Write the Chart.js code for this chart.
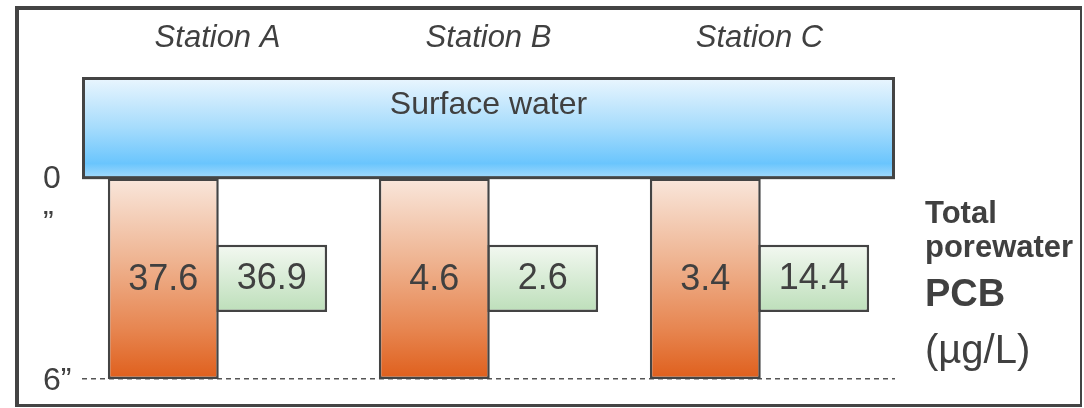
<!DOCTYPE html>
<html>
<head>
<meta charset="utf-8">
<title>Porewater PCB by station</title>
<script src="https://cdn.jsdelivr.net/npm/chart.js@4.4.1/dist/chart.umd.min.js"></script>
<style>
  html, body { margin: 0; padding: 0; background: #fff; overflow: hidden; }
  #frame {
    position: absolute; left: 15px; top: 6px; width: 1061px; height: 394px;
    border-style: solid; border-color: #444; border-width: 4px 2px 3px 4px;
  }
  #chart { position: absolute; left: 0; top: 0; }
</style>
</head>
<body>
<div id="frame"></div>
<canvas id="chart" width="1084" height="408"></canvas>
<script>
var stations = ['Station A', 'Station B', 'Station C'];
var coreDepth = [0, 6];      // inches below the sediment surface
var samplerDepth = [2, 4];
var waterDepth = [-3, 0];
var coreValues = [37.6, 4.6, 3.4];
var samplerValues = [36.9, 2.6, 14.4];
var depthTicks = [0, 6];
var depthLabels = ['0', '6”'];

var INK = '#404040';
var EDGE = '#444';
var FONT = "'Liberation Sans', Arial, Helvetica, sans-serif";

Chart.defaults.font.family = FONT;
Chart.defaults.color = INK;

function makeGradient(ctx, y0, y1, stops) {
  var g = ctx.createLinearGradient(0, y0, 0, y1);
  stops.forEach(function(s) { g.addColorStop(s[0], s[1]); });
  return g;
}

// vertical gradient between two depths on the y scale
function depthGradient(from, to, stops) {
  return function(context) {
    var chart = context.chart;
    var y = chart.scales.y;
    if (!chart.chartArea || !y) return stops[stops.length - 1][1];
    return makeGradient(chart.ctx, y.getPixelForValue(from), y.getPixelForValue(to), stops);
  };
}

var waterStops = [[0, '#ebf6fe'], [0.5, '#a6dcfc'], [0.86, '#6ac5fd'], [1, '#a2d9fb']];

// surface water layer, spanning the full width above the sediment
var waterPlugin = {
  id: 'surfaceWater',
  beforeDatasetsDraw: function(chart) {
    var ctx = chart.ctx;
    var area = chart.chartArea;
    var y = chart.scales.y;
    var top = y.getPixelForValue(waterDepth[0]);
    var bottom = y.getPixelForValue(waterDepth[1]);
    ctx.save();
    ctx.fillStyle = makeGradient(ctx, top, bottom, waterStops);
    ctx.fillRect(area.left, top, area.right - area.left, bottom - top);
    ctx.strokeStyle = EDGE;
    ctx.lineWidth = 3;
    ctx.strokeRect(area.left + 1.5, top + 1.5, area.right - area.left - 3, bottom - top - 1.5);
    ctx.fillStyle = INK;
    ctx.textAlign = 'center';
    ctx.textBaseline = 'middle';
    ctx.font = '32px ' + FONT;
    ctx.fillText('Surface water', (area.left + area.right) / 2, top + 28);
    ctx.restore();
  }
};

var labelsPlugin = {
  id: 'coreLabels',
  afterDatasetsDraw: function(chart) {
    var ctx = chart.ctx;
    var area = chart.chartArea;
    var yScale = chart.scales.y;
    ctx.save();
    ctx.fillStyle = INK;
    ctx.textAlign = 'center';
    ctx.textBaseline = 'middle';

    ctx.font = '36px ' + FONT;
    [coreValues, samplerValues].forEach(function(values, di) {
      chart.getDatasetMeta(di).data.forEach(function(bar, i) {
        ctx.fillText(values[i].toFixed(1), bar.x, (bar.y + bar.base) / 2 + 1);
      });
    });

    // the 0” tick label wraps, leaving its quote on a line of its own
    ctx.textAlign = 'left';
    ctx.textBaseline = 'alphabetic';
    ctx.font = '32px ' + FONT;
    ctx.fillText('”', yScale.left, yScale.getPixelForValue(0) + 55);

    // unit caption right of the cores
    var x = area.right + 30;
    ctx.font = 'bold 31px ' + FONT;
    ctx.fillText('Total', x, area.top + 146);
    ctx.fillText('porewater', x, area.top + 180);
    ctx.font = 'bold 38px ' + FONT;
    ctx.fillText('PCB', x, area.top + 229);
    ctx.font = '40px ' + FONT;
    ctx.fillText('(µg/L)', x, area.top + 286);
    ctx.restore();
  }
};

new Chart(document.getElementById('chart'), {
  type: 'bar',
  data: {
    labels: stations,
    datasets: [
      {
        label: 'Sediment core',
        data: stations.map(function() { return coreDepth; }),
        backgroundColor: depthGradient(0, 6, [[0, '#f9e7dc'], [0.4, '#efb593'], [0.75, '#e78651'], [1, '#df5f1c']]),
        borderColor: EDGE,
        borderWidth: 2.5,
        borderSkipped: false
      },
      {
        label: 'Porewater sampler',
        data: stations.map(function() { return samplerDepth; }),
        backgroundColor: depthGradient(2, 4, [[0, '#f3f8f1'], [1, '#bddfba']]),
        borderColor: EDGE,
        borderWidth: 2.5,
        borderSkipped: false
      }
    ]
  },
  options: {
    responsive: false,
    animation: false,
    events: [],
    categoryPercentage: 0.8,
    barPercentage: 1.023,
    layout: { padding: { left: 43, right: 189, top: 0, bottom: 29 } },
    plugins: {
      legend: { display: false },
      tooltip: { enabled: false }
    },
    scales: {
      x: {
        position: 'top',
        grid: { display: false, drawTicks: false },
        border: { display: false },
        ticks: { font: { size: 31, style: 'italic' }, padding: 20 },
        afterFit: function(s) { s.height = 77; }
      },
      y: {
        reverse: true,
        min: -3,
        max: 6,
        afterBuildTicks: function(s) {
          s.ticks = depthTicks.map(function(v) { return { value: v }; });
        },
        ticks: {
          font: { size: 32 },
          crossAlign: 'far',
          padding: 0,
          labelOffset: 2,
          callback: function(v, i) { return depthLabels[i]; }
        },
        grid: {
          drawTicks: false,
          lineWidth: 1.5,
          color: function(c) {
            return c.tick && c.tick.value === 6 ? '#555' : 'rgba(0,0,0,0)';
          }
        },
        border: { display: false, dash: [5, 4] },
        afterFit: function(s) { s.width = 39; }
      }
    }
  },
  plugins: [waterPlugin, labelsPlugin]
});
</script>
</body>
</html>
